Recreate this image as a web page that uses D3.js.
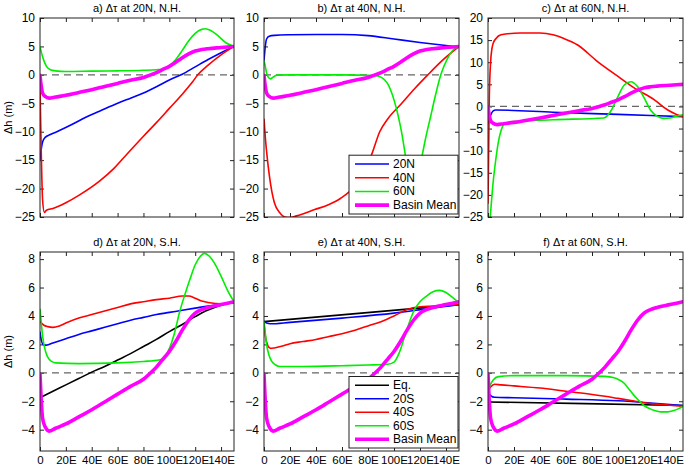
<!DOCTYPE html>
<html><head><meta charset="utf-8">
<script src="https://cdn.jsdelivr.net/npm/d3@7"></script>
<style>body{margin:0;background:#fff} text{font-family:"Liberation Sans",Arial,Helvetica,sans-serif;fill:#000}</style>
</head><body><svg id="chart" width="685" height="467"></svg>
<script>
// ---------- DATA ----------
const lonTicks = [0,20,40,60,80,100,120,140];
const lonLabels = ["0","20E","40E","60E","80E","100E","120E","140E"];
const yTicksTop = [-25,-20,-15,-10,-5,0,5,10];
const yTicksTopC = [-25,-20,-15,-10,-5,0,5,10,15,20];
const yTicksBottom = [-4,-2,0,2,4,6,8];

const basinMean = [[0,-0.1],[1,-2.0],[2,-3.2],[4,-3.8],[7,-4.1],[12,-3.9],[20,-3.6],[30,-3.1],[40,-2.6],[50,-2.05],[60,-1.5],[70,-0.95],[80,-0.45],[85,-0.05],[90,0.4],[95,0.95],[100,1.5],[105,2.2],[110,3.0],[115,3.7],[120,4.2],[125,4.45],[130,4.6],[140,4.8],[150,5.0]];

// a) 20N, N.H.
const a_20N = [[0,-15],[1,-13],[2,-11.8],[4,-11],[8,-10.5],[15,-9.8],[25,-8.7],[35,-7.5],[46,-6.4],[60,-5],[70,-4.1],[80,-3.2],[90,-2.1],[100,-0.9],[110,0.1],[120,1.4],[130,2.7],[140,3.9],[150,5.0]];
const a_40N = [[0,-2],[1,-14],[2,-22],[3.4,-24.2],[5,-23.8],[10,-23.5],[20,-22.5],[30,-21.2],[46,-18.7],[57,-16.5],[67,-14],[80,-10.8],[90,-8.4],[100,-5.9],[110,-3.4],[118,-1.2],[122,0],[130,1.7],[140,3.5],[150,5.0]];
const a_60N = [[0,5],[1,4],[3,2.5],[5,1.5],[8,0.9],[12,0.7],[20,0.6],[40,0.65],[60,0.7],[80,0.8],[90,0.9],[95,1.0],[100,1.6],[105,2.7],[110,4.3],[115,6],[120,7.3],[125,8.0],[128,8.1],[132,7.8],[138,6.8],[144,5.6],[150,5.0]];

// b) 40N, N.H.
const b_20N = [[0,2.5],[1,5],[2,6.3],[4,6.8],[8,6.95],[20,7.05],[40,7.1],[60,7.1],[80,6.9],[100,6.3],[120,5.7],[135,5.3],[150,4.9]];
const b_40N = [[0,-7.7],[1,-11],[2,-13.5],[4,-17.5],[6,-20.5],[8,-22.5],[12,-24.2],[16,-25],[20,-25.1],[25,-24.8],[39,-23.7],[50,-22.8],[59,-21.7],[70,-19.5],[78,-16.5],[83,-13.9],[89,-10],[95,-7.8],[106,-5],[116,-2.4],[126,0],[137,2.5],[150,5]];
const b_60N = [[0,2.5],[1,1.5],[2,0.3],[4,-0.6],[5,-0.7],[7,-0.4],[10,-0.05],[20,0],[60,0],[85,-0.1],[90,-0.4],[95,-1.5],[100,-4.4],[103,-7],[106,-10.3],[109,-14.5],[113,-20],[117,-20],[121,-15],[124,-11.5],[128,-7.5],[132,-3.5],[136,0],[141,2.8],[146,4.5],[150,5]];

// c) 60N, N.H.
const c_20N = [[0,-4],[2,-2],[4,-1],[6,-0.8],[50,-1.3],[100,-1.8],[150,-2.3]];
const c_40N = [[0,-22],[0.5,-10],[1,2],[2,10],[3,13],[4,14.3],[6,15.3],[10,16.2],[25,16.6],[40,16.6],[50,16.2],[58,15.4],[69,13.9],[84,10.2],[100,6.8],[113,4.1],[128,1.5],[138,-0.75],[145,-1.8],[150,-2.3]];
const c_60N = [[0,-32],[2,-24],[4,-17],[6,-12],[8,-8],[10,-5.5],[13,-3.8],[20,-3.4],[50,-3.0],[89,-2.6],[95,-0.8],[100,2.3],[105,4.9],[110,5.6],[115,4.5],[120,2],[125,-0.8],[130,-2.2],[135,-2.7],[140,-2.6],[145,-2.2],[150,-1.9]];

// d) 20N, S.H.
const d_Eq = [[0,-1.75],[10,-1.3],[20,-0.85],[30,-0.4],[40,0.05],[50,0.45],[60,0.9],[70,1.35],[80,1.85],[90,2.35],[100,2.9],[110,3.4],[120,3.95],[128,4.35],[135,4.6],[142,4.8],[150,4.95]];
const d_20S = [[0,2.9],[1,2.3],[3,1.95],[5,1.95],[10,2.1],[20,2.4],[30,2.7],[40,2.95],[50,3.2],[60,3.45],[70,3.7],[80,3.9],[90,4.1],[100,4.25],[110,4.4],[120,4.55],[130,4.7],[140,4.8],[150,4.95]];
const d_40S = [[0,3.6],[3,3.35],[6,3.25],[10,3.2],[15,3.3],[20,3.5],[30,3.85],[40,4.1],[50,4.35],[60,4.6],[70,4.85],[80,5.0],[90,5.15],[100,5.25],[110,5.4],[115,5.4],[120,5.25],[125,5.05],[130,4.95],[140,4.85],[150,4.95]];
const d_60S = [[0,4.5],[1,3.5],[2,2.6],[4,1.6],[6,1.1],[9,0.8],[12,0.7],[30,0.65],[60,0.7],[80,0.8],[92,0.9],[96,1.1],[100,1.7],[104,2.8],[108,4.3],[112,5.5],[116,6.6],[120,7.6],[124,8.2],[127,8.4],[131,8.2],[135,7.7],[140,6.8],[145,5.8],[150,5.0]];

// e) 40N, S.H.
const e_Eq = [[0,3.6],[75,4.2],[150,4.8]];
const e_20S = [[0,3.65],[2,3.5],[5,3.45],[20,3.55],[60,3.85],[100,4.2],[125,4.5],[150,4.8]];
const e_40S = [[0,3.5],[1,2.6],[3,1.9],[5,1.72],[8,1.75],[15,1.9],[20,2.05],[30,2.2],[40,2.35],[50,2.55],[60,2.75],[70,3.0],[80,3.3],[90,3.6],[100,4.0],[110,4.45],[120,4.65],[130,4.7],[140,4.75],[150,4.8]];
const e_60S = [[0,3.6],[1,2.8],[2,2.0],[4,1.2],[6,0.8],[9,0.55],[12,0.45],[30,0.45],[60,0.5],[80,0.55],[95,0.6],[100,0.75],[104,1.4],[108,2.5],[112,3.6],[116,4.5],[120,5.0],[125,5.4],[130,5.7],[135,5.8],[140,5.65],[145,5.3],[150,4.95]];

// f) 60N, S.H.
const f_Eq = [[0,-2.05],[75,-2.17],[150,-2.3]];
const f_20S = [[0,-1.3],[2,-1.6],[5,-1.72],[20,-1.75],[60,-1.85],[100,-1.97],[125,-2.12],[150,-2.3]];
const f_40S = [[0,-1.25],[2,-1.0],[5,-0.8],[10,-0.85],[20,-0.92],[40,-1.07],[60,-1.3],[80,-1.52],[90,-1.65],[100,-1.8],[110,-1.95],[120,-2.1],[130,-2.2],[140,-2.28],[150,-2.35]];
const f_60S = [[0,-1.3],[2,-0.8],[4,-0.5],[8,-0.27],[20,-0.2],[60,-0.2],[90,-0.25],[97,-0.35],[101,-0.5],[105,-0.75],[108,-1.1],[112,-1.55],[116,-1.95],[120,-2.3],[124,-2.5],[128,-2.65],[133,-2.75],[138,-2.75],[143,-2.65],[147,-2.5],[150,-2.35]];

const titles = ["a) Δτ at 20N, N.H.","b) Δτ at 40N, N.H.","c) Δτ at 60N, N.H.","d) Δτ at 20N, S.H.","e) Δτ at 40N, S.H.","f) Δτ at 60N, S.H."];
const legendTop = ["20N","40N","60N","Basin Mean"];
const legendBottom = ["Eq.","20S","40S","60S","Basin Mean"];

// ---------- STYLE / LAYOUT ----------
const COL = {eq:"#000000", s20:"#0000ff", s40:"#ff0000", s60:"#00ee00", mean:"#ff00ff"};
const cols = [[40,234],[264,459],[488,683]];
const rows = [[18,217],[252,451]];
const FONT = '"Liberation Sans",Arial,sans-serif';

const panels = [
  {t:0, c:0, r:0, dom:[-25,10], ticks:yTicksTop, ser:[[a_20N,COL.s20],[a_40N,COL.s40],[a_60N,COL.s60]]},
  {t:1, c:1, r:0, dom:[-25,10], ticks:yTicksTop, ser:[[b_20N,COL.s20],[b_40N,COL.s40],[b_60N,COL.s60]], legend:{names:legendTop, colors:[COL.s20,COL.s40,COL.s60,COL.mean]}},
  {t:2, c:2, r:0, dom:[-25,20], ticks:yTicksTopC, ser:[[c_20N,COL.s20],[c_40N,COL.s40],[c_60N,COL.s60]]},
  {t:3, c:0, r:1, dom:[-5.5,8.5], ticks:yTicksBottom, ser:[[d_Eq,COL.eq],[d_20S,COL.s20],[d_40S,COL.s40],[d_60S,COL.s60]]},
  {t:4, c:1, r:1, dom:[-5.5,8.5], ticks:yTicksBottom, ser:[[e_Eq,COL.eq],[e_20S,COL.s20],[e_40S,COL.s40],[e_60S,COL.s60]], legend:{names:legendBottom, colors:[COL.eq,COL.s20,COL.s40,COL.s60,COL.mean]}},
  {t:5, c:2, r:1, dom:[-5.5,8.5], ticks:yTicksBottom, ser:[[f_Eq,COL.eq],[f_20S,COL.s20],[f_40S,COL.s40],[f_60S,COL.s60]]}
];

const svg = d3.select("#chart");
const defs = svg.append("defs");

panels.forEach((p,i)=>{
  const [x0,x1] = cols[p.c], [y0,y1] = rows[p.r];
  const x = d3.scaleLinear().domain([0,150]).range([x0,x1]);
  const y = d3.scaleLinear().domain(p.dom).range([y1,y0]);
  const g = svg.append("g");

  defs.append("clipPath").attr("id","clip"+i).append("rect")
    .attr("x",x0).attr("y",y0).attr("width",x1-x0).attr("height",y1-y0);

  // title
  g.append("text").attr("x",(x0+x1)/2).attr("y",y0-6).attr("text-anchor","middle")
    .attr("font-size",11).text(titles[p.t]);

  // axes (ticks inward, boxed)
  g.append("g").attr("transform",`translate(${x0},0)`)
    .call(d3.axisLeft(y).tickValues(p.ticks).tickSize(-4).tickPadding(5).tickFormat(d=>d3.format("d")(d)))
    .call(s=>{s.select(".domain").remove(); s.selectAll("text").attr("font-size",12).attr("font-family",FONT);});
  g.append("g").attr("transform",`translate(${x1},0)`)
    .call(d3.axisRight(y).tickValues(p.ticks).tickSize(-4).tickFormat(""))
    .call(s=>s.select(".domain").remove());
  g.append("g").attr("transform",`translate(0,${y1})`)
    .call(d3.axisBottom(x).tickValues(lonTicks).tickSize(-4).tickPadding(5)
      .tickFormat((d,k)=> p.r===1 ? lonLabels[k] : ""))
    .call(s=>{s.select(".domain").remove(); s.selectAll("text").attr("font-size",11.5).attr("font-family",FONT);});
  g.append("g").attr("transform",`translate(0,${y0})`)
    .call(d3.axisTop(x).tickValues(lonTicks).tickSize(-4).tickFormat(""))
    .call(s=>s.select(".domain").remove());
  g.selectAll(".tick line").attr("stroke","#222");

  // zero dashed line
  g.append("line").attr("x1",x0).attr("x2",x1).attr("y1",y(0)).attr("y2",y(0))
    .attr("stroke","#666").attr("stroke-width",1.2).attr("stroke-dasharray","7,5");

  const line = d3.line().x(d=>x(d[0])).y(d=>y(d[1])).curve(d3.curveMonotoneX);
  const lg = g.append("g").attr("clip-path",`url(#clip${i})`);
  p.ser.forEach(([data,color])=>{
    lg.append("path").datum(data).attr("d",line).attr("fill","none")
      .attr("stroke",color).attr("stroke-width",1.6).attr("stroke-linejoin","round");
  });
  lg.append("path").datum(basinMean).attr("d",line).attr("fill","none")
    .attr("stroke",COL.mean).attr("stroke-width",3.6).attr("stroke-linejoin","round").attr("stroke-linecap","round");

  // box
  g.append("rect").attr("x",x0).attr("y",y0).attr("width",x1-x0).attr("height",y1-y0)
    .attr("fill","none").attr("stroke","#222").attr("stroke-width",1);

  // legend
  if(p.legend){
    const n = p.legend.names.length;
    const rowH = n===4 ? 13.7 : 13.5;
    const lx0 = 349, lw = 109, lh = n*rowH + 4;
    const ly0 = y1 - lh - 3;
    const L = g.append("g");
    L.append("rect").attr("x",lx0).attr("y",ly0).attr("width",lw).attr("height",lh)
      .attr("fill","#fff").attr("stroke","#222").attr("stroke-width",1);
    p.legend.names.forEach((nm,k)=>{
      const cy = ly0 + 2 + rowH*(k+0.5);
      L.append("line").attr("x1",lx0+6).attr("x2",lx0+40).attr("y1",cy).attr("y2",cy)
        .attr("stroke",p.legend.colors[k]).attr("stroke-width", nm==="Basin Mean"?3.6:1.6);
      L.append("text").attr("x",lx0+44).attr("y",cy+4).attr("font-size",12).text(nm);
    });
  }
});

// y axis labels
[0,1].forEach(r=>{
  const cy = (rows[r][0]+rows[r][1])/2;
  svg.append("text").attr("transform",`translate(12,${cy}) rotate(-90)`)
    .attr("text-anchor","middle").attr("font-size",11).text("Δh (m)");
});
</script></body></html>
